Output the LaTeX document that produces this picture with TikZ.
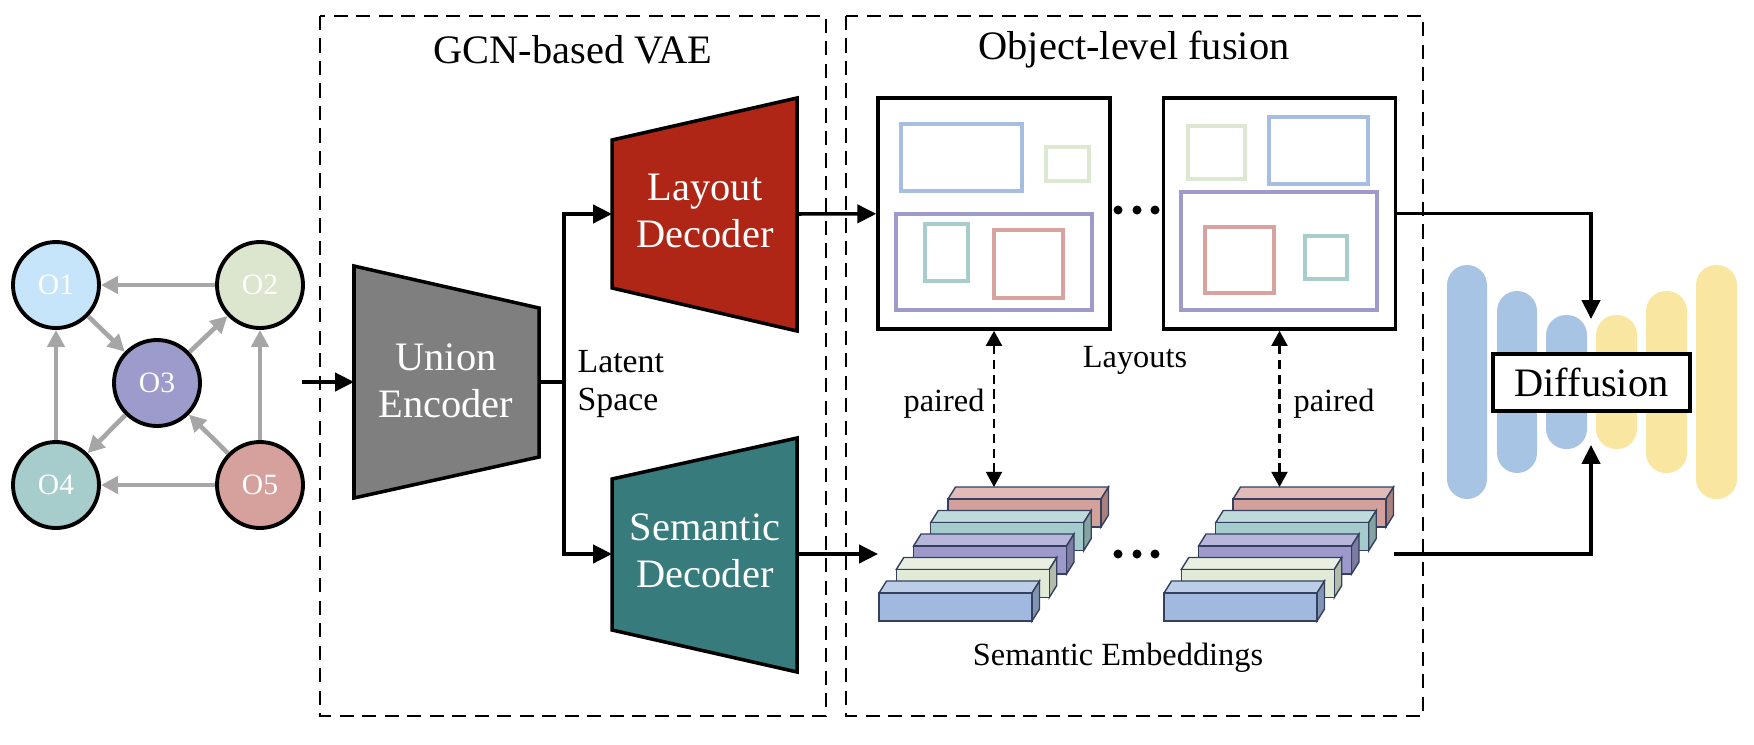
\documentclass[tikz,border=0pt]{standalone}
\usepackage{fontspec}
\setmainfont{Liberation Serif}
\usetikzlibrary{arrows.meta,positioning}

\definecolor{oBlue}{HTML}{C6E5FB}
\definecolor{oGreen}{HTML}{DCE6CE}
\definecolor{oPurple}{HTML}{9D9BCB}
\definecolor{oTeal}{HTML}{A6CDCC}
\definecolor{oRed}{HTML}{D6A19C}
\definecolor{edgegray}{HTML}{A6A6A6}
\definecolor{encGray}{HTML}{7F7F7F}
\definecolor{layRed}{HTML}{AF2616}
\definecolor{semTeal}{HTML}{377B7C}
\definecolor{lyBlue}{HTML}{A6BFE0}
\definecolor{lyGreen}{HTML}{DCE8CF}
\definecolor{lyPurple}{HTML}{9E9BCB}
\definecolor{lyTeal}{HTML}{A7CECD}
\definecolor{lyRed}{HTML}{D8A29E}
\definecolor{ebBlue}{HTML}{A1B9DE}
\definecolor{ebGreen}{HTML}{E0EAD5}
\definecolor{ebPurple}{HTML}{9D9ACB}
\definecolor{ebTeal}{HTML}{A5CCCC}
\definecolor{ebRed}{HTML}{D4A09C}
\definecolor{ebEdge}{HTML}{34405E}
\definecolor{unBlue}{HTML}{A8C4E4}
\definecolor{unYellow}{HTML}{F9E7A1}

% one embedding bar: x, y of front face corner, colour
\newcommand{\embbar}[3]{%
  \filldraw[draw=ebEdge,line width=0.4pt,fill=#3!72!white] (#1,#2) -- ++(7.5,-12) -- ++(153,0) -- ++(-7.5,12) -- cycle;
  \filldraw[draw=ebEdge,line width=0.4pt,fill=#3!80!black] (#1,#2) ++(153,0) -- ++(7.5,-12) -- ++(0,28) -- ++(-7.5,12) -- cycle;
  \filldraw[draw=ebEdge,line width=0.4pt,fill=#3] (#1,#2) rectangle ++(153,28);
}

\begin{document}
\begin{tikzpicture}[x=0.1mm,y=-0.1mm,>={Triangle[length=5.4pt,width=5.2pt]},
    obj/.style={circle,draw,line width=1.1pt,minimum size=8.6mm,inner sep=0pt,text=white,font=\fontsize{8.4}{9}\selectfont},
    gedge/.style={draw=edgegray,line width=1.3pt,-{Triangle[length=4.8pt,width=4.8pt]}},
    wire/.style={line width=1pt},
    arr/.style={line width=1pt,->},
    pair/.style={line width=0.75pt,dash pattern=on 2.6pt off 1.6pt,{Triangle[length=4.3pt,width=4.5pt]}-{Triangle[length=4.3pt,width=4.5pt]}},
    group/.style={line width=0.5pt,dash pattern=on 4pt off 2.4pt},
    grouptitle/.style={inner sep=0pt,font=\fontsize{11.5}{13.5}\selectfont},
    coder/.style={draw,line width=1pt},
    codertext/.style={text=white,align=center,inner sep=0pt,font=\fontsize{11.5}{13.5}\selectfont},
    note/.style={inner sep=0pt,font=\fontsize{9.2}{11}\selectfont},
    laybox/.style={draw,line width=1pt,minimum width=23.2mm,minimum height=23.1mm,inner sep=0pt},
    objbox/.style={draw=#1,line width=1.2pt},
    unet/.style={fill=#1,rounded corners=2mm}]

    \useasboundingbox (0,0) rectangle (1754,744);

    % scene graph
    \node[obj,fill=oBlue]   (o1) at (56,285)  {O1};
    \node[obj,fill=oGreen]  (o2) at (260,285) {O2};
    \node[obj,fill=oPurple] (o3) at (157,383) {O3};
    \node[obj,fill=oTeal]   (o4) at (56,485)  {O4};
    \node[obj,fill=oRed]    (o5) at (260,485) {O5};

    \draw[gedge] (o2) -- (o1);
    \draw[gedge] (o1) -- (o3);
    \draw[gedge] (o3) -- (o2);
    \draw[gedge] (o4) -- (o1);
    \draw[gedge] (o3) -- (o4);
    \draw[gedge] (o5) -- (o3);
    \draw[gedge] (o5) -- (o4);
    \draw[gedge] (o5) -- (o2);

    % GCN-based VAE
    \draw[group] (320,16) rectangle (826,716);
    \node[grouptitle] (vaetitle) at (573,50) {GCN-based VAE};

    \draw[coder,fill=encGray] (354,266) -- (539,308) -- (539,457) -- (354,498) -- cycle;
    \node[codertext] (enc) at (446,381) {Union\\Encoder};
    \draw[coder,fill=layRed] (612,140) -- (797,98) -- (797,331) -- (612,288) -- cycle;
    \node[codertext] (laydec) at (705,211) {Layout\\Decoder};
    \draw[coder,fill=semTeal] (612,479) -- (797,438) -- (797,672) -- (612,630) -- cycle;
    \node[codertext] (semdec) at (705,551) {Semantic\\Decoder};

    \coordinate (in)     at (302,382);
    \coordinate (encin)  at (354,382);
    \coordinate (encout) at (539,382);
    \coordinate (split)  at (564,382);
    \coordinate (layin)  at (612,214);
    \coordinate (semin)  at (612,554);
    \coordinate (layout) at (797,214);
    \coordinate (semout) at (797,554);

    \draw[arr] (in) -- (encin);
    \draw[wire] (encout) -- (split);
    \draw[arr] (split) |- (layin);
    \draw[arr] (split) |- (semin);
    \node[note,anchor=west,align=left,font=\fontsize{9.6}{10.8}\selectfont] (latent) at (577,384) {Latent\\Space};

    % object-level fusion
    \draw[group] (846,16) rectangle (1423,716);
    \node[grouptitle] (fusiontitle) at (1134,50) {Object-level fusion};

    \node[laybox] (layA) at (994,213.5) {};
    \node[laybox] (layB) at (1279.5,213.5) {};
    \draw[objbox=lyBlue]   (901,124) rectangle (1022,191);
    \draw[objbox=lyGreen]  (1046,147) rectangle (1089,181);
    \draw[objbox=lyPurple] (896,214) rectangle (1092,310);
    \draw[objbox=lyTeal]   (925,224) rectangle (968,281);
    \draw[objbox=lyRed]    (994,230) rectangle (1063,298);
    \draw[objbox=lyGreen]  (1188,126) rectangle (1245,179);
    \draw[objbox=lyBlue]   (1269,117) rectangle (1368,184);
    \draw[objbox=lyPurple] (1181,192) rectangle (1377,310);
    \draw[objbox=lyRed]    (1205,227) rectangle (1274,293);
    \draw[objbox=lyTeal]   (1305,236) rectangle (1347,279);
    \foreach \dx in {1118,1137,1155}
        \fill (\dx,210) circle (4.5);

    \draw[arr] (layout) -- (layA);
    \node[note] (layouts) at (1135,360) {Layouts};

    \foreach \s in {0,285}
        \foreach \c [count=\i from 0] in {ebRed,ebTeal,ebPurple,ebGreen,ebBlue} {
            \pgfmathsetmacro{\ex}{948+\s-17.25*\i}
            \pgfmathsetmacro{\ey}{499+23.5*\i}
            \embbar{\ex}{\ey}{\c}
        }
    \foreach \dx in {1118,1137,1155}
        \fill (\dx,554) circle (4.5);

    \coordinate (embin)  at (878,554);
    \coordinate (embA)   at (994,487);
    \coordinate (embB)   at (1279.5,487);
    \coordinate (embout) at (1394,554);
    \draw[arr] (semout) -- (embin);
    \node[note] (embtext) at (1118,658) {Semantic Embeddings};

    \draw[pair] (layA.south) -- (embA);
    \draw[pair] (layB.south) -- (embB);
    \node[note] (pairA) at (944,404) {paired};
    \node[note] (pairB) at (1334,404) {paired};

    % diffusion
    \fill[unet=unBlue]   (1447,265) rectangle (1487,499);
    \fill[unet=unBlue]   (1497,291) rectangle (1537,473);
    \fill[unet=unBlue]   (1546,315) rectangle (1587,449);
    \fill[unet=unYellow] (1596,315) rectangle (1637,449);
    \fill[unet=unYellow] (1646,291) rectangle (1687,473);
    \fill[unet=unYellow] (1696,265) rectangle (1737,499);
    \node[draw,fill=white,line width=1pt,minimum width=19.7mm,minimum height=5.7mm,inner sep=0pt,font=\fontsize{11.5}{13.5}\selectfont] (diff) at (1591.5,382.5) {Diffusion};

    \coordinate (diffin)  at (1591,319);
    \coordinate (diffin2) at (1591,445);
    \draw[arr] (layB.east) -| (diffin);
    \draw[arr] (embout) -| (diffin2);
\end{tikzpicture}
\end{document}
